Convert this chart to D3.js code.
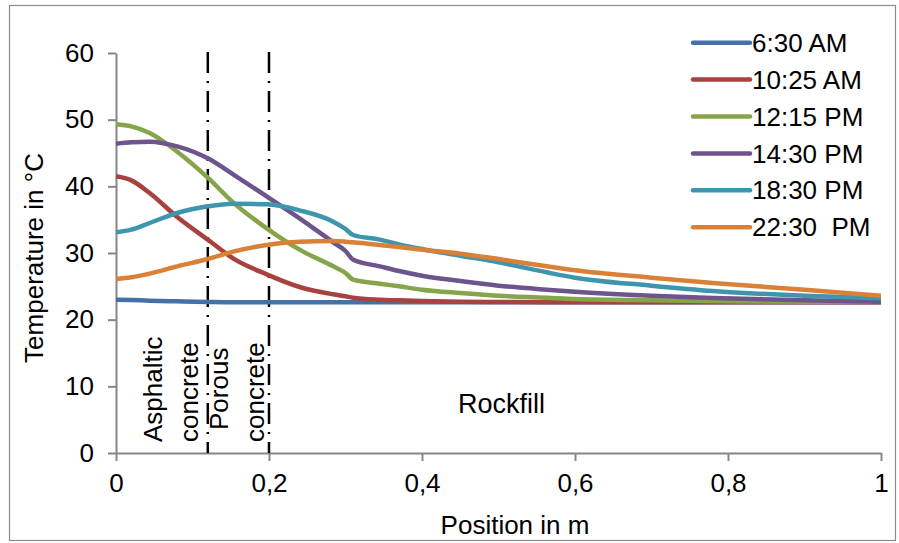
<!DOCTYPE html>
<html>
<head>
<meta charset="utf-8">
<script src="https://cdn.jsdelivr.net/npm/d3@7"></script>
<style>
  html, body { margin: 0; padding: 0; background: #fff; }
  svg { display: block; }
  text { font-family: "Liberation Sans", Arial, sans-serif; fill: #000; }
</style>
</head>
<body>
<svg id="chart" width="899" height="543"></svg>
<script>
// ---- Data ----
const positions = [0, 0.02, 0.044, 0.08, 0.12, 0.153, 0.197, 0.24, 0.284, 0.30, 0.31, 0.345, 0.37, 0.4, 0.45, 0.5, 0.563, 0.6, 0.7, 0.78, 0.9, 1.0];
const seriesNames = ["6:30 AM", "10:25 AM", "12:15 PM", "14:30 PM", "18:30 PM", "22:30  PM"];
const seriesColors = ["#4472a8", "#a8423f", "#86a44a", "#6e548d", "#3d96ae", "#da8137"];
const t0630 = [23.0, 22.95, 22.85, 22.75, 22.65, 22.6, 22.6, 22.6, 22.6, 22.6, 22.6, 22.6, 22.6, 22.6, 22.6, 22.6, 22.6, 22.6, 22.6, 22.6, 22.6, 22.6];
const t1025 = [41.5, 40.9, 39.0, 35.4, 32.0, 29.2, 26.8, 24.9, 23.8, 23.5, 23.3, 23.0, 22.9, 22.8, 22.7, 22.65, 22.6, 22.6, 22.6, 22.6, 22.6, 22.6];
const t1215 = [49.3, 49.0, 48.0, 45.2, 41.3, 37.6, 33.7, 30.5, 28.0, 27.0, 26.0, 25.4, 25.0, 24.5, 24.0, 23.6, 23.3, 23.1, 22.9, 22.8, 22.7, 22.7];
const t1430 = [46.4, 46.6, 46.7, 46.0, 44.2, 41.8, 38.5, 35.2, 31.6, 30.3, 29.0, 28.0, 27.3, 26.6, 25.8, 25.1, 24.5, 24.2, 23.6, 23.25, 22.9, 22.7];
const t1830 = [33.1, 33.5, 34.5, 36.0, 37.0, 37.4, 37.3, 36.4, 34.7, 33.6, 32.7, 32.0, 31.3, 30.6, 29.6, 28.6, 27.1, 26.3, 25.1, 24.3, 23.6, 23.2];
const t2230 = [26.1, 26.35, 26.9, 28.0, 29.1, 30.2, 31.2, 31.7, 31.8, 31.7, 31.6, 31.2, 30.9, 30.5, 29.9, 29.1, 28.0, 27.4, 26.3, 25.5, 24.5, 23.6];
const seriesValues = [t0630, t1025, t1215, t1430, t1830, t2230];
const xTicks = [0, 0.2, 0.4, 0.6, 0.8, 1];
const xTickLabels = ["0", "0,2", "0,4", "0,6", "0,8", "1"];
const yTicks = [0, 10, 20, 30, 40, 50, 60];
const layerBounds = [0.12, 0.2];
const layerTexts = ["Asphaltic", "concrete", "Porous", "concrete"];

// ---- Setup ----
const svg = d3.select("#chart");
const plot = { left: 116, right: 881, top: 53, bottom: 453 };
const x = d3.scaleLinear().domain([0, 1]).range([plot.left, plot.right]);
const y = d3.scaleLinear().domain([0, 60]).range([plot.bottom, plot.top]);
const axisColor = "#868686";
const fs = 26;

// outer border
svg.append("rect")
  .attr("x", 9.5).attr("y", 5.5).attr("width", 886).attr("height", 535)
  .attr("fill", "none").attr("stroke", "#8c8c8c").attr("stroke-width", 1.2);

// Y axis
const yAxis = svg.append("g").attr("transform", `translate(${plot.left},0)`)
  .call(d3.axisLeft(y).tickValues(yTicks).tickSize(8).tickPadding(14).tickSizeOuter(0));
yAxis.select(".domain").attr("stroke", axisColor).attr("stroke-width", 2);
yAxis.selectAll(".tick line").attr("stroke", axisColor).attr("stroke-width", 2);
yAxis.selectAll(".tick text").attr("font-size", fs).attr("font-family", "Liberation Sans, Arial, sans-serif").attr("fill", "#000");

// X axis
const xAxis = svg.append("g").attr("transform", `translate(0,${plot.bottom})`)
  .call(d3.axisBottom(x).tickValues(xTicks).tickFormat((d, i) => xTickLabels[i]).tickSize(8).tickPadding(13).tickSizeOuter(0));
xAxis.select(".domain").attr("stroke", axisColor).attr("stroke-width", 2);
xAxis.selectAll(".tick line").attr("stroke", axisColor).attr("stroke-width", 2);
xAxis.selectAll(".tick text").attr("font-size", fs).attr("font-family", "Liberation Sans, Arial, sans-serif").attr("fill", "#000");

// layer boundary lines (dash-dot)
svg.selectAll("line.bound").data(layerBounds).enter().append("line")
  .attr("class", "bound")
  .attr("x1", d => x(d)).attr("x2", d => x(d))
  .attr("y1", y(60) - 1).attr("y2", y(0))
  .attr("stroke", "#000").attr("stroke-width", 2.5)
  .attr("stroke-dasharray", "21,8,2,8");

// series lines
const line = d3.line().x(d => x(d[0])).y(d => y(d[1])).curve(d3.curveMonotoneX);
seriesValues.forEach((vals, i) => {
  const pts = positions.map((p, j) => [p, vals[j]]);
  svg.append("path").datum(pts)
    .attr("d", line)
    .attr("fill", "none")
    .attr("stroke", seriesColors[i])
    .attr("stroke-width", 4.5)
    .attr("stroke-linejoin", "round");
});

// layer labels (rotated)
const rotPos = [[162, 442], [198, 442], [228, 430], [264, 442]];
layerTexts.forEach((t, i) => {
  svg.append("text")
    .attr("transform", `translate(${rotPos[i][0]},${rotPos[i][1]}) rotate(-90)`)
    .attr("font-size", 26)
    .text(t);
});

// Rockfill
svg.append("text")
  .attr("x", 458).attr("y", 413)
  .attr("font-family", "Lato, 'Open Sans', sans-serif")
  .attr("font-size", 27)
  .text("Rockfill");

// axis titles
svg.append("text")
  .attr("x", 515).attr("y", 534)
  .attr("text-anchor", "middle")
  .attr("font-size", fs)
  .text("Position in m");
svg.append("text")
  .attr("transform", `translate(43,258) rotate(-90)`)
  .attr("text-anchor", "middle")
  .attr("font-size", fs)
  .text("Temperature in °C");

// legend
const legend = svg.append("g");
seriesNames.forEach((name, i) => {
  const ly = 42.7 + i * 36.9;
  legend.append("line")
    .attr("x1", 693).attr("x2", 750).attr("y1", ly).attr("y2", ly)
    .attr("stroke", seriesColors[i]).attr("stroke-width", 4.5).attr("stroke-linecap", "round");
  legend.append("text")
    .attr("x", 752).attr("y", ly)
    .attr("dy", "0.35em")
    .attr("font-size", fs)
    .attr("xml:space", "preserve")
    .style("white-space", "pre")
    .text(name);
});
</script>
</body>
</html>
